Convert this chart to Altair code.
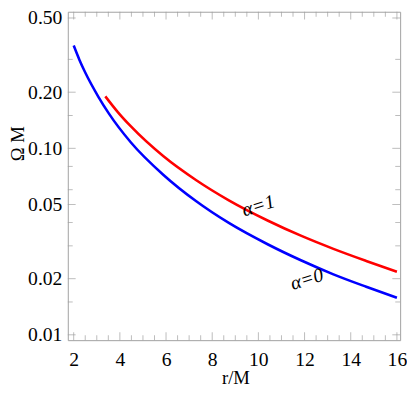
import altair as alt
import pandas as pd

# ---- data ----
blue_r = [2.0, 2.25, 2.5, 3.07, 3.52, 4.48, 5.89, 7.31, 8.72, 10.42, 11.84, 13.25, 14.67, 16.0]
blue_w = [0.356, 0.298, 0.255, 0.189, 0.154, 0.1075, 0.072, 0.0520, 0.0398, 0.0305, 0.0251, 0.0211, 0.0181, 0.0158]
red_r = [3.37, 3.92, 4.48, 5.89, 7.31, 8.72, 10.42, 11.84, 13.25, 14.67, 16.0]
red_w = [0.190, 0.156, 0.131, 0.0906, 0.0674, 0.0526, 0.0409, 0.0340, 0.0289, 0.0249, 0.0218]

x_major = [2, 4, 6, 8, 10, 12, 14, 16]
x_minor = [2.5, 3, 3.5, 4.5, 5, 5.5, 6.5, 7, 7.5, 8.5, 9, 9.5, 10.5, 11, 11.5,
           12.5, 13, 13.5, 14.5, 15, 15.5]
y_major = [0.01, 0.02, 0.05, 0.1, 0.2, 0.5]
y_minor = [0.015, 0.03, 0.04, 0.06, 0.08, 0.15, 0.3]

label_text = ["α=1", "α=0"]
label_r = [10.0, 12.1]
label_w = [0.0491, 0.0198]

W, H = 339, 335
GRAY = "#a0a0a0"
FONT = "'Liberation Serif', 'Times New Roman', Times, serif"

df = pd.concat([
    pd.DataFrame({"r": blue_r, "w": blue_w, "s": "a0"}),
    pd.DataFrame({"r": red_r, "w": red_w, "s": "a1"}),
])

xs = alt.Scale(domain=[1.745, 16.14], nice=False, zero=False)
ys = alt.Scale(type="log", domain=[0.00936, 0.54], nice=False)

lines = alt.Chart(df).mark_line(strokeWidth=2.6, interpolate="monotone", clip=True).encode(
    x=alt.X("r:Q", scale=xs, axis=alt.Axis(
        values=x_major, title="r/M", ticks=False, domain=False, grid=False,
        labelPadding=10, titleX=171, titleY=38, titleBaseline="middle", titleAlign="center")),
    y=alt.Y("w:Q", scale=ys, axis=alt.Axis(
        values=y_major, format=".2f", title="Ω M", ticks=False, domain=False, grid=False,
        labelPadding=6, titleX=-51, titleY=134, titleAngle=270,
        titleBaseline="middle", titleAlign="center")),
    color=alt.Color("s:N", scale=alt.Scale(domain=["a0", "a1"], range=["#0000ff", "#ff0000"]),
                    legend=None),
)

def yticks(vals, size, xpos):
    return alt.Chart(pd.DataFrame({"w": vals})).mark_tick(
        orient="horizontal", size=size, thickness=1, color=GRAY).encode(
        y=alt.Y("w:Q", scale=ys), x=alt.value(xpos))

def xticks(vals, size, ypos):
    return alt.Chart(pd.DataFrame({"r": vals})).mark_tick(
        orient="vertical", size=size, thickness=1, color=GRAY).encode(
        x=alt.X("r:Q", scale=xs), y=alt.value(ypos))

ticks = [
    yticks(y_major, 8, 4), yticks(y_minor, 5, 2.5),
    yticks(y_major, 8, W - 4), yticks(y_minor, 5, W - 2.5),
    xticks(x_major, 8, H - 4), xticks(x_minor, 5, H - 2.5),
    xticks(x_major, 8, 4), xticks(x_minor, 5, 2.5),
]

labels = alt.Chart(pd.DataFrame({"r": label_r, "w": label_w, "t": label_text})).mark_text(
    font=FONT, fontStyle="italic", fontSize=20, angle=343, color="black").encode(
    x=alt.X("r:Q", scale=xs), y=alt.Y("w:Q", scale=ys), text="t:N")

chart = alt.layer(*ticks, lines, labels).properties(
    width=W, height=H,
    autosize=alt.AutoSizeParams(type="none"),
    padding={"left": 61, "top": 0, "right": 7, "bottom": 47},
).configure_view(stroke=GRAY, strokeWidth=1).configure_axis(
    labelFont=FONT, labelFontSize=20, labelColor="black",
    titleFont=FONT, titleFontSize=19, titleFontWeight="normal", titleColor="black",
)

chart.save("out.html", embed_options={"renderer": "svg", "actions": False})
